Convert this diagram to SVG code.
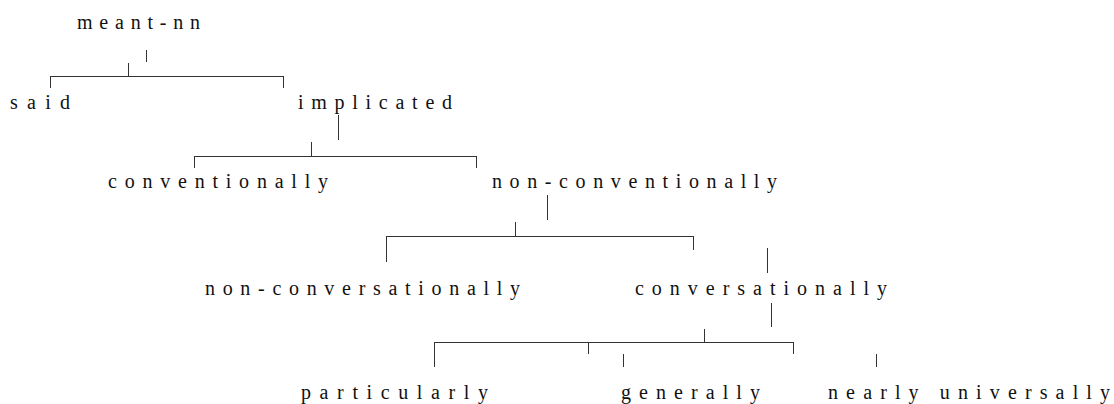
<svg xmlns="http://www.w3.org/2000/svg" width="1114" height="404" viewBox="0 0 1114 404">
<style>
.t{font-family:"Liberation Serif","Times New Roman",serif;font-size:20px;fill:#111}
.c path{stroke:#333;stroke-width:1;fill:none}
</style>
<rect width="1114" height="404" fill="#fff"/>
<g id="n-meant"><text class="t" x="77" y="29" textLength="123" lengthAdjust="spacing">meant-nn</text></g>
<g id="n-said"><text class="t" x="10" y="109" textLength="60" lengthAdjust="spacing">said</text></g>
<g id="n-implicated"><text class="t" x="298" y="109" textLength="154" lengthAdjust="spacing">implicated</text></g>
<g id="n-conventionally"><text class="t" x="108" y="188" textLength="220" lengthAdjust="spacing">conventionally</text></g>
<g id="n-nonconventionally"><text class="t" x="492" y="188" textLength="285" lengthAdjust="spacing">non-conventionally</text></g>
<g id="n-nonconversationally"><text class="t" x="205" y="295" textLength="315" lengthAdjust="spacing">non-conversationally</text></g>
<g id="n-conversationally"><text class="t" x="635" y="295" textLength="252" lengthAdjust="spacing">conversationally</text></g>
<g id="n-particularly"><text class="t" x="301" y="399" textLength="187" lengthAdjust="spacing">particularly</text></g>
<g id="n-generally"><text class="t" x="621" y="399" textLength="139" lengthAdjust="spacing">generally</text></g>
<g id="n-nearly"><text class="t" x="828" y="399" textLength="282" lengthAdjust="spacing">nearly universally</text></g>
<g id="connectors" class="c">
<path d="M146.5 50V62M128.5 63V76M50 76.5H284M50.5 76V88M283.5 76V88"/>
<path d="M338.5 115V140M311.5 142V156M194 156.5H477M194.5 156V168M476.5 156V168"/>
<path d="M547.5 195V220M515.5 222V236M386 236.5H694M386.5 236V262M693.5 236V250"/>
<path d="M767.5 248V273M771.5 303V327M704.5 329V342M434 342.5H794M434.5 342V367M588.5 342V354M793.5 342V354M623.5 354V367M876.5 354V367"/>
</g>
</svg>
